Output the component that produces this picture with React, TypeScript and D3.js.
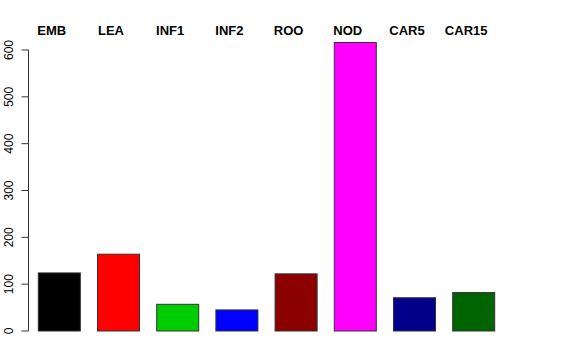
import React from "react";
import * as d3 from "d3";

const categories = ["EMB", "LEA", "INF1", "INF2", "ROO", "NOD", "CAR5", "CAR15"];
const values = [124, 164, 57, 45, 122, 616, 71, 82];
const colors = ["#000000", "#FF0000", "#00CD00", "#0000FF", "#8B0000", "#FF00FF", "#00008B", "#006400"];
const yTicks = [0, 100, 200, 300, 400, 500, 600];

export default function App() {
  const W = 576, H = 360;
  const y = d3.scaleLinear().domain([0, 600]).range([331, 50]);
  const x = d3.scaleBand<string>().domain(categories).range([38.3, 494.7]).paddingInner(0.29).paddingOuter(0);
  const axisX = 28.5;
  return (
    <svg width={W} height={H} style={{ position: "absolute", left: 0, top: 0 }}>
      <rect width={W} height={H} fill="#fff" />
      {categories.map((c, i) => (
        <rect key={c} x={x(c)!} y={y(values[i])} width={x.bandwidth()} height={y(0) - y(values[i])}
          fill={colors[i]} stroke="#333" strokeWidth={1} />
      ))}
      {categories.map((c) => (
        <text key={"l" + c} x={x(c)! + x.bandwidth() / 2 - 7.5} y={35} textAnchor="middle"
          fontFamily="Liberation Sans, Arial, sans-serif" fontWeight="bold" fontSize={13} fill="#000">{c}</text>
      ))}
      <line x1={axisX} x2={axisX} y1={y(0)} y2={y(600)} stroke="#333" />
      {yTicks.map((t) => (
        <g key={t}>
          <line x1={axisX - 7} x2={axisX} y1={y(t)} y2={y(t)} stroke="#333" />
          <text transform={`translate(13,${y(t)}) rotate(-90)`} textAnchor="middle"
            fontFamily="Liberation Sans, Arial, sans-serif" fontSize={12} fill="#000">{t}</text>
        </g>
      ))}
    </svg>
  );
}
